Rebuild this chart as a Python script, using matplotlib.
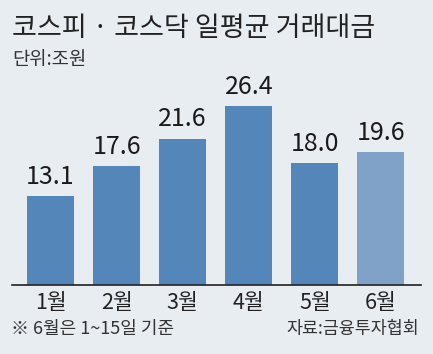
import matplotlib
matplotlib.use("Agg")
import matplotlib.pyplot as plt

months = ["1월", "2월", "3월", "4월", "5월", "6월"]
values = [13.1, 17.6, 21.6, 26.4, 18.0, 19.6]
colors = ["#5486b9"] * 5 + ["#80a2c9"]

bg = "#e8edf2"
W, H = 433, 354
kr_font = ["Noto Sans CJK KR", "DejaVu Sans"]

fig = plt.figure(figsize=(W / 100, H / 100), dpi=100, facecolor=bg)

# axes placed in pixel terms: baseline at y=285, line from x=12 to 421
ax = fig.add_axes([12 / W, (H - 285) / H, 409 / W, 205 / H])
ax.set_facecolor(bg)
x = list(range(len(values)))
ax.bar(x, values, width=0.712, color=colors, zorder=2)
ax.set_xlim(-0.583, 5.606)
ax.set_ylim(0, 205 / 6.78)

for xi, v in zip(x, values):
    ax.text(xi, v + 0.9, f"{v:.1f}", ha="center", va="bottom",
            fontsize=18, family=kr_font, color="#1a1a1a")

for s in ["left", "right", "top"]:
    ax.spines[s].set_visible(False)
ax.spines["bottom"].set_color("#222222")
ax.spines["bottom"].set_linewidth(1.2)
ax.set_yticks([])
ax.set_xticks(x)
ax.set_xticklabels(months, family=kr_font, fontsize=15.5, color="#222222")
ax.tick_params(axis="x", length=0, pad=5)

fig.text(12 / W, 1 - 28 / H, "코스피 · 코스닥 일평균 거래대금", family=kr_font,
         fontsize=19.5, weight="medium", color="#222222", va="center", ha="left")
fig.text(12 / W, 1 - 60 / H, "단위:조원", family=kr_font,
         fontsize=13.5, color="#333333", va="center", ha="left")
fig.text(11 / W, 1 - 329 / H, "※ 6월은 1~15일 기준", family=kr_font,
         fontsize=13, color="#333333", va="center", ha="left")
fig.text(419 / W, 1 - 329 / H, "자료:금융투자협회", family=kr_font,
         fontsize=12.5, color="#333333", va="center", ha="right")

fig.savefig("out.png", dpi=100, facecolor=bg)
